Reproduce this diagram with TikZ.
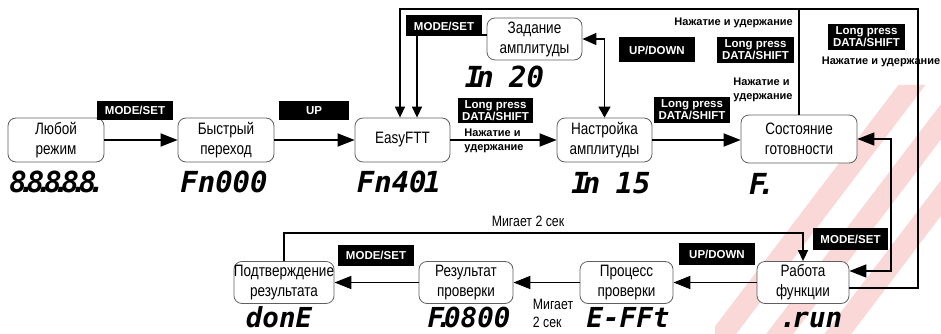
\documentclass[tikz,border=0pt]{standalone}
\usepackage{fontspec}
\setmainfont{Liberation Sans}
\newfontfamily\nodef{Liberation Sans}[FakeStretch=0.82]
\newfontfamily\segf{DejaVu Sans Mono}
\usetikzlibrary{arrows.meta,calc}
\definecolor{wmpink}{RGB}{251,216,216}
\definecolor{boxline}{RGB}{95,95,95}
\newcommand\sdot{\makebox[0pt][c]{.}}
\tikzset{
  state/.style={draw=boxline, line width=0.8pt, rounded corners=8pt, fill=white,
    align=center, inner sep=0pt, font=\nodef\fontsize{16.5}{20}\selectfont,
    minimum width=95pt, minimum height=43pt},
  keybox/.style={fill=black, text=white, inner sep=0pt, align=center,
    font=\bfseries\fontsize{11.5}{12}\selectfont, minimum width=76pt, minimum height=20pt},
  note/.style={inner sep=0pt, align=left, font=\bfseries\fontsize{11}{14}\selectfont},
  plain/.style={inner sep=0pt, align=left, font=\nodef\fontsize{15}{18}\selectfont},
  seg/.style={inner sep=0pt, anchor=base, font=\segf\bfseries\itshape\fontsize{29}{29}\selectfont},
  segb/.style={seg, font=\segf\bfseries\itshape\fontsize{27.5}{28}\selectfont},
  flow/.style={line width=1.8pt, -{Triangle[length=17pt,width=13pt]}},
  bflow/.style={line width=1.6pt, {Triangle[length=17pt,width=13pt]}-{Triangle[length=17pt,width=13pt]}},
  mflow/.style={line width=1.5pt, {Triangle[length=14pt,width=12pt]}-{Triangle[length=11pt,width=12pt]}},
  sflow/.style={line width=1.4pt, -{Triangle[length=11pt,width=10pt]}},
  wire/.style={line width=1.4pt}
}
\begin{document}
\begin{tikzpicture}[x=1pt,y=-1pt]
\useasboundingbox (0,0) rectangle (941,334);
% watermark
\begin{scope}
  \clip (715,85) rectangle (941,334);
  \foreach \a/\b in {963/990,1020/1047,1078/1105}{
    \fill[wmpink] (\a-64.6,85) -- (\b-64.6,85) -- (\b-253.8,334) -- (\a-253.8,334) -- cycle;
  }
\end{scope}
% top row
\node[state, minimum width=96pt, minimum height=44pt] (n1) at (56,140) {Любой\\режим};
\node[state, minimum width=96pt, minimum height=44pt] (n2) at (226,140) {Быстрый\\переход};
\node[state, minimum height=44pt] (n3) at (402.5,140) {EasyFTT};
\node[state, minimum height=44pt] (n4) at (604.5,140) {Настройка\\амплитуды};
\node[state, minimum width=116pt, minimum height=48pt] (n5) at (799,139) {Состояние\\готовности};
\node[state, minimum height=42pt] (n6) at (534.5,39) {Задание\\амплитуды};
% bottom row
\node[state, minimum width=94pt, minimum height=42pt] (conf) at (284,282.5) {Подтверждение\\результата};
\node[state, minimum width=94pt, minimum height=42pt] (res) at (466,282.5) {Результат\\проверки};
\node[state, minimum width=93pt, minimum height=42pt] (proc) at (626.5,282.5) {Процесс\\проверки};
\node[state, minimum width=92pt, minimum height=42pt] (rab) at (803,282.5) {Работа\\функции};
% displays
\node[seg] (d1) at (53,192) {8\sdot8\sdot8\sdot8\sdot8\sdot};
\node[seg] (d2) at (224,192) {Fn000};
\node[seg] (d3) at (399,192) {Fn40\kern-3pt1};
\node[seg] (d4) at (504.5,88) {I\kern-6pt n\kern-2pt\ 20};
\node[seg] (d5) at (611,193) {I\kern-6pt n\kern-2pt\ 15};
\node[seg, anchor=base west] (d6) at (749,194) {F\sdot};
\node[segb] (d7) at (279,327.5) {donE};
\node[segb] (d8) at (469,327.5) {F\sdot0800};
\node[segb] (d9) at (628,327.5) {E-FFt};
\node[segb] (d10) at (811,327.5) {.\kern-4pt run};
% key labels
\node[keybox, minimum height=19pt] (k1) at (135,110.5) {MODE/SET};
\node[keybox, minimum width=70pt, minimum height=19pt] (k2) at (314,110.5) {UP};
\node[keybox, minimum width=75pt, minimum height=25pt] (k3) at (495.5,110.5) {Long press\\DATA/SHIFT};
\node[keybox, minimum height=25pt] (k4) at (692,110) {Long press\\DATA/SHIFT};
\node[keybox, minimum height=25pt] (k5) at (657,50) {UP/DOWN};
\node[keybox, minimum width=77pt, minimum height=26pt] (k6) at (755.5,50) {Long press\\DATA/SHIFT};
\node[keybox, minimum width=77pt, minimum height=26pt] (k7) at (866.5,37) {Long press\\DATA/SHIFT};
\node[keybox, minimum height=21pt] (k8) at (444,26) {MODE/SET};
\node[keybox, minimum width=75pt, minimum height=22pt] (k9) at (850.5,239) {MODE/SET};
\node[keybox, minimum height=22pt] (k10) at (717,254) {UP/DOWN};
\node[keybox, minimum height=21pt] (k11) at (376,255.5) {MODE/SET};
% notes
\node[note] (t3) at (494,141) {Нажатие и\\удержание};
\node[note, anchor=east] (t6a) at (793,23) {Нажатие и удержание};
\node[note] (t6b) at (763,90) {Нажатие и\\удержание};
\node[note] (t7) at (881,62) {Нажатие и удержание};
\node[plain] (b1) at (528,221) {Мигает 2 сек};
\node[plain] (b2) at (553,313) {Мигает\\2 сек};
% coordinates
\coordinate (cR) at (918,9);
\coordinate (cL) at (400,9);
\coordinate (rOut) at ($(rab.east)+(0,5.5)$);
\coordinate (zOut) at ($(n6.west)+(0,-4)$);
\coordinate (zIn) at ($(n3.north)+(14.5,0)$);
\coordinate (kS) at (891,271);
\coordinate (rIn) at ($(rab.east)+(0,-11.5)$);
\coordinate (kT) at (803,233);
% connectors
\draw[flow] (n1) -- (n2);
\draw[flow] (n2) -- (n3);
\draw[flow] (n3) -- (n4);
\draw[flow] (n4.east) -- (n4.east -| n5.west);
\draw[sflow] (rOut) -| (cR) -- (cL) -- (cL |- n3.north);
\draw[wire] (n5.north) -- (n5.north |- cL);
\draw[sflow] (zOut) -| (zIn);
\draw[mflow] (n6.east) -| (n4.north);
\draw[bflow] (n5.east) -| (kS) -- (rIn);
\draw[flow] (rab.west) -- (proc.east);
\draw[flow] (proc.west) -- (res.east);
\draw[flow] (res.west) -- (conf.east);
\draw[sflow] (conf.north) |- (kT) -- (rab.north);
\end{tikzpicture}
\end{document}
